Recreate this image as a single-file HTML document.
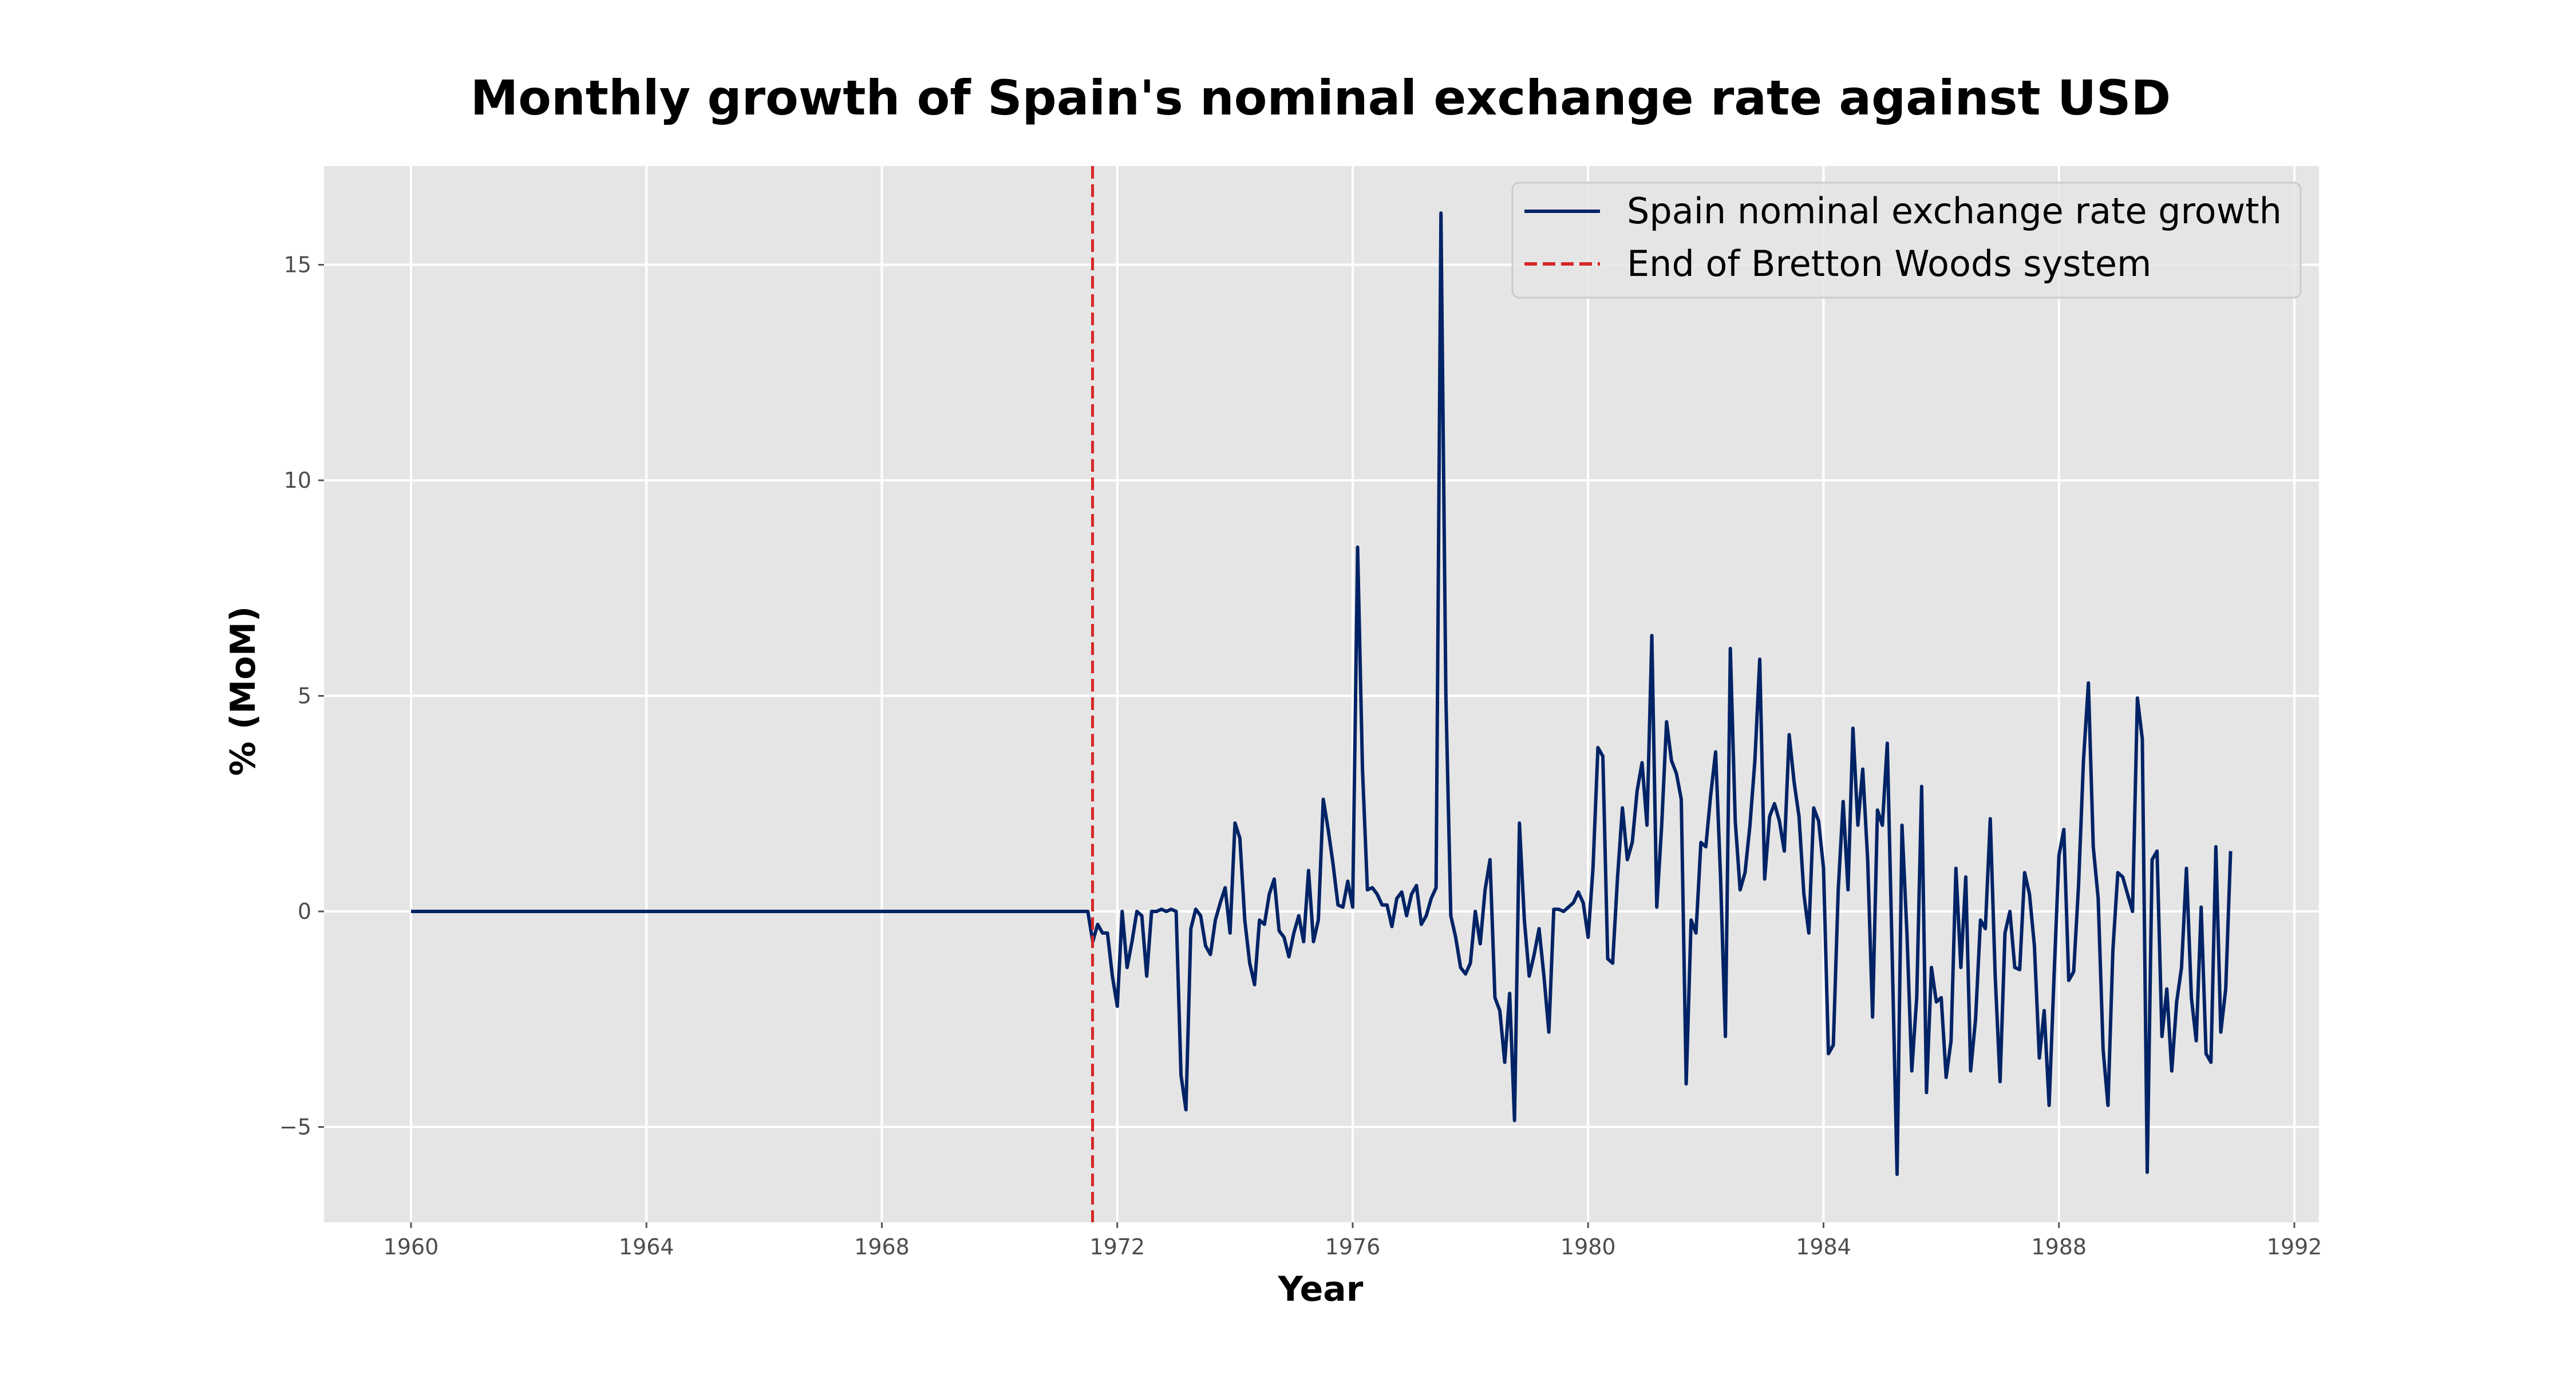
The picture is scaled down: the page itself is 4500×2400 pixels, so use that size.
<!DOCTYPE html>
<html><head><meta charset="utf-8"><style>body{margin:0;background:#fff}svg{display:block}</style></head>
<body>
<svg width="4500" height="2400" xmlns="http://www.w3.org/2000/svg" font-family="'DejaVu Sans','Liberation Sans',sans-serif">
<rect width="4500" height="2400" fill="#fff"/>
<text x="2307" y="200" font-size="84" font-weight="bold" text-anchor="middle">Monthly growth of Spain's nominal exchange rate against USD</text>
<rect x="566" y="290" width="3485" height="1845" fill="#e5e5e5"/>
<g id="grid"></g><g id="ticks"></g><g id="series"></g>
<text x="2307" y="2272" font-size="60" font-weight="bold" text-anchor="middle">Year</text>
<text transform="translate(445,1207) rotate(-90)" font-size="60" font-weight="bold" text-anchor="middle">% (MoM)</text>
<g>
<rect x="2642" y="319" width="1377" height="201" rx="12" fill="#e5e5e5" fill-opacity="0.8" stroke="#cccccc" stroke-width="3"/>
<line x1="2663" y1="369" x2="2795" y2="369" stroke="#002366" stroke-width="6"/>
<text x="2842" y="390" font-size="62">Spain nominal exchange rate growth</text>
<line x1="2663" y1="461" x2="2795" y2="461" stroke="#d62728" stroke-width="6" stroke-dasharray="22,10"/>
<text x="2842" y="482" font-size="62">End of Bretton Woods system</text>
</g>
</svg>
<script>
const startYear = 1960;
const xTicks = [1960,1964,1968,1972,1976,1980,1984,1988,1992];
const yTicks = [-5,0,5,10,15];
const yTickLabels = ["\u22125","0","5","10","15"];
const brettonWoods = 1971.58;
const zeros = [0,0,0,0,0,0,0,0,0,0,0,0,0,0,0,0,0,0,0,0,0,0,0,0,0,0,0,0,0,0,0,0,0,0,0,0,0,0,0,0,0,0,0,0,0,0,0,0,0,0,0,0,0,0,0,0,0,0,0,0,0,0,0,0,0,0,0,0,0,0,0,0,0,0,0,0,0,0,0,0,0,0,0,0,0,0,0,0,0,0,0,0,0,0,0,0,0,0,0,0,0,0,0,0,0,0,0,0,0,0,0,0,0,0,0,0,0,0,0,0,0,0,0,0,0,0,0,0,0,0,0,0,0,0,0,0,0,0,0];
const growth = [-0.7,-0.3,-0.5,-0.5,
-1.5,-2.2,0,-1.3,-0.7,0,-0.1,-1.5,0.0,0,0.05,0,
0.05,0,-3.8,-4.6,-0.4,0.05,-0.1,-0.8,-1.0,-0.2,0.2,0.55,
-0.5,2.05,1.7,-0.2,-1.2,-1.7,-0.2,-0.3,0.4,0.75,-0.45,-0.6,
-1.05,-0.5,-0.1,-0.7,0.95,-0.7,-0.2,2.6,1.9,1.1,0.15,0.1,
0.7,0.1,8.45,3.3,0.5,0.55,0.4,0.15,0.15,-0.35,0.3,0.45,
-0.1,0.4,0.6,-0.3,-0.1,0.3,0.55,16.2,5.0,-0.1,-0.6,-1.3,
-1.45,-1.2,0,-0.75,0.5,1.2,-2.0,-2.3,-3.5,-1.9,-4.85,2.05,
-0.2,-1.5,-1.0,-0.4,-1.5,-2.8,0.05,0.05,0,0.1,0.2,0.45,
0.2,-0.6,1.0,3.8,3.6,-1.1,-1.2,0.8,2.4,1.2,1.6,2.8,
3.45,2.0,6.4,0.1,2.0,4.4,3.5,3.2,2.6,-4.0,-0.2,-0.5,
1.6,1.5,2.7,3.7,0.8,-2.9,6.1,2.1,0.5,0.9,2.0,3.5,
5.85,0.75,2.2,2.5,2.1,1.4,4.1,3.0,2.2,0.4,-0.5,2.4,
2.1,1.0,-3.3,-3.1,0.5,2.55,0.5,4.25,2.0,3.3,1.2,-2.45,
2.35,2.0,3.9,-1.0,-6.1,2.0,-0.5,-3.7,-2.0,2.9,-4.2,-1.3,
-2.1,-2.0,-3.85,-3.0,1.0,-1.3,0.8,-3.7,-2.5,-0.2,-0.4,2.15,
-1.5,-3.95,-0.5,0,-1.3,-1.35,0.9,0.4,-0.8,-3.4,-2.3,-4.5,
-1.5,1.3,1.9,-1.6,-1.4,0.6,3.5,5.3,1.5,0.3,-3.2,-4.5,
-0.9,0.9,0.8,0.4,0,4.95,4.0,-6.05,1.2,1.4,-2.9,-1.8,
-3.7,-2.1,-1.3,1.0,-2.0,-3.0,0.1,-3.3,-3.5,1.5,-2.8,-1.8,1.4];
const values = zeros.concat(growth);

const NS = "http://www.w3.org/2000/svg";
const L=566,R=4051,T=290,B=2135;
const xs = y => 718 + (y-1960)*(4008-718)/32;
const ys = v => 1592 - v*75.3;
function mk(tag, attrs, parent){const e=document.createElementNS(NS,tag);for(const k in attrs)e.setAttribute(k,attrs[k]);parent.appendChild(e);return e;}
const grid=document.getElementById('grid'), ticks=document.getElementById('ticks'), ser=document.getElementById('series');
xTicks.forEach(t=>{
  const x=xs(t);
  const g=mk('line',{x1:x,x2:x,y1:T,y2:B,stroke:'#fff','stroke-width':4},grid);
  
  
  const tk=mk('line',{x1:x,x2:x,y1:B,y2:B+10,stroke:'#555','stroke-width':3},ticks);
  
  
  const tx=mk('text',{x:x,y:B+56,'font-size':38,fill:'#4d4d4d','text-anchor':'middle'},ticks);
  tx.textContent=t;
  
  
});
yTicks.forEach((t,i)=>{
  const y=ys(t);
  const g=mk('line',{x1:L,x2:R,y1:y,y2:y,stroke:'#fff','stroke-width':4},grid);
  
  
  const tk=mk('line',{x1:L-10,x2:L,y1:y,y2:y,stroke:'#555','stroke-width':3},ticks);
  
  
  const tx=mk('text',{x:L-22,y:y+13,'font-size':38,fill:'#4d4d4d','text-anchor':'end'},ticks);
  tx.textContent=yTickLabels[i];
  
  
});
const pts=values.map((v,i)=>xs(startYear+i/12).toFixed(1)+','+ys(v).toFixed(1)).join(' ');
const pl=mk('polyline',{points:pts,fill:'none',stroke:'#002366','stroke-width':6,'stroke-linejoin':'round'},ser);


const bw=mk('line',{x1:xs(brettonWoods),x2:xs(brettonWoods),y1:T,y2:B,stroke:'#d62728','stroke-width':5,'stroke-dasharray':'22,10'},ser);


</script>
</body></html>
